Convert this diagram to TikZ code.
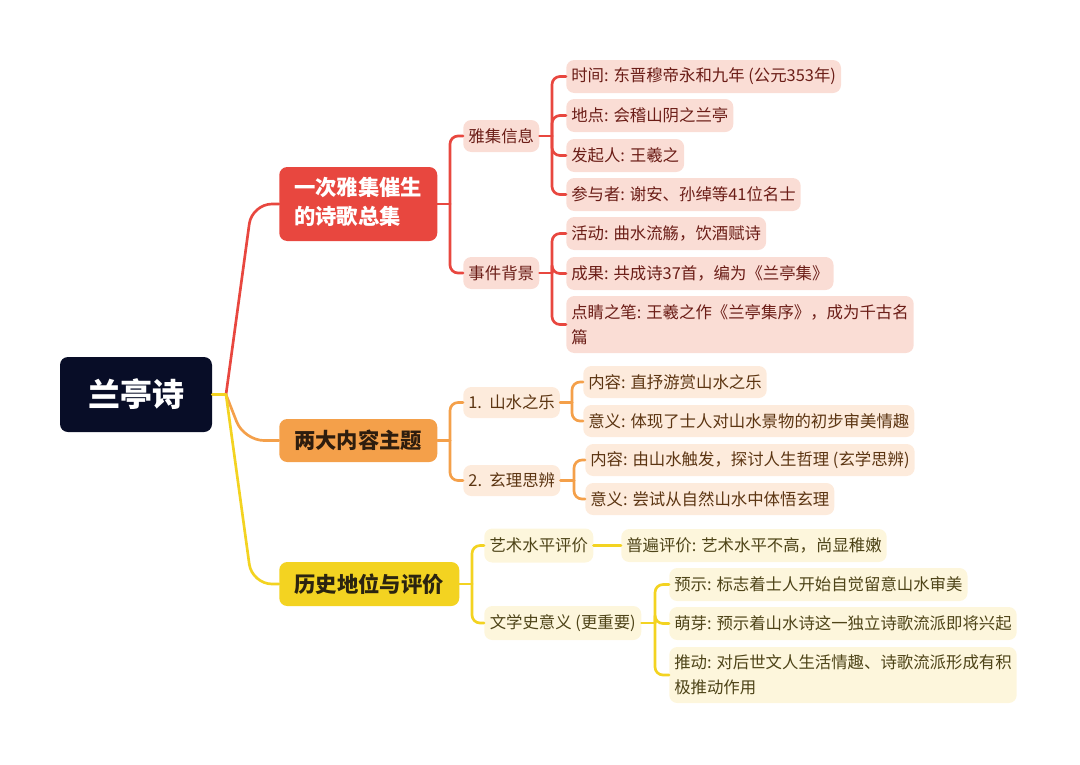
\documentclass[tikz,border=0pt]{standalone}
\usepackage{fontspec}
\setmainfont{Noto Sans CJK SC}
\definecolor{redC}{HTML}{E8473F}
\definecolor{redL}{HTML}{FADDD5}
\definecolor{redT}{HTML}{6B1D17}
\definecolor{orC}{HTML}{F4A04A}
\definecolor{orL}{HTML}{FDEBDC}
\definecolor{orT}{HTML}{5C3512}
\definecolor{orMT}{HTML}{2E1D0E}
\definecolor{yeC}{HTML}{F3D321}
\definecolor{yeL}{HTML}{FDF6DC}
\definecolor{yeT}{HTML}{4E4418}
\definecolor{yeMT}{HTML}{2B2410}
\definecolor{rootC}{HTML}{080D27}
\begin{document}
\begin{tikzpicture}[x=0.75pt,y=-0.75pt,
  base/.style={rounded corners=6pt, inner ysep=0pt, anchor=west, font=\fontsize{12.3}{18.75}\selectfont},
  leafR/.style={base, fill=redL, text=redT, inner xsep=3.75pt, minimum height=24.75pt},
  subR/.style={leafR, minimum height=24pt},
  leafO/.style={base, fill=orL, text=orT, inner xsep=3.75pt, minimum height=24pt},
  subO/.style={leafO, minimum height=23.25pt},
  leafY/.style={base, fill=yeL, text=yeT, inner xsep=3.75pt, minimum height=24.75pt},
  subY/.style={leafY, minimum height=25.5pt},
  mainN/.style={rounded corners=6pt, anchor=west, inner sep=0pt, font=\fontsize{16}{21.75}\selectfont\bfseries},
  lR/.style={draw=redC, line width=2pt, line cap=round},
  lO/.style={draw=orC, line width=2pt, line cap=round},
  lY/.style={draw=yeC, line width=2pt, line cap=round},
  rcorner/.style={rounded corners=6pt},
]
\useasboundingbox (0,0) rectangle (1080,764);

% root
\node[rounded corners=6pt, fill=rootC, text=white, minimum width=114pt, minimum height=56.25pt,
  font=\fontsize{24}{28}\selectfont\bfseries] (root) at (136,394.5) {兰亭诗};

% main nodes
\node[mainN, fill=redC, text=white, minimum width=118.5pt, minimum height=55.5pt] (m1) at (279,204)
  {\begin{tabular}{@{}l@{}}一次雅集催生\\的诗歌总集\end{tabular}};
\node[mainN, fill=orC, text=orMT, minimum width=118.5pt, minimum height=32.25pt] (m2) at (279,440.5) {两大内容主题};
\node[mainN, fill=yeC, text=yeMT, minimum width=135pt, minimum height=33pt] (m3) at (279,584) {历史地位与评价};

% root connectors
\coordinate (rj) at (226,394.5);
\draw[lR, rounded corners=15pt] (rj) -- (252,204) -- (m1.west);
\draw[lO, rounded corners=15pt] (rj) -- (244,440.5) -- (m2.west);
\draw[lY, rounded corners=15pt] (rj) -- (252,584) -- (m3.west);
\draw[lY] (root.east) -- (rj);

% red branch
\node[subR, minimum width=57pt] (r1) at (463,136) {雅集信息};
\node[subR, minimum width=57pt] (r2) at (463,273) {事件背景};
\node[leafR] (r11) at (566,76.5) {时间: 东晋穆帝永和九年 (公元353年)};
\node[leafR] (r12) at (566,115.5) {地点: 会稽山阴之兰亭};
\node[leafR] (r13) at (566,155.5) {发起人: 王羲之};
\node[leafR] (r14) at (566,194.5) {参与者: 谢安、孙绰等41位名士};
\node[leafR] (r21) at (566,233.5) {活动: 曲水流觞，饮酒赋诗};
\node[leafR] (r22) at (566,273.5) {成果: 共成诗37首，编为《兰亭集》};
\node[leafR, align=left, minimum height=42.75pt] (r23) at (566,324.5) {点睛之笔: 王羲之作《兰亭集序》，成为千古名\\篇};

\draw[lR] (m1.east) -- (450,204) coordinate (jm1);
\foreach \c in {r1,r2} \draw[lR, rcorner] (jm1) |- (\c.west);
\draw[lR] (r1.east) -- (552,136) coordinate (jr1);
\foreach \c in {r11,r12,r13,r14} \draw[lR, rcorner] (jr1) |- (\c.west);
\draw[lR] (r2.east) -- (552,273) coordinate (jr2);
\foreach \c in {r21,r22,r23} \draw[lR, rcorner] (jr2) |- (\c.west);

% orange branch
\node[subO, minimum width=71.25pt] (o1) at (463,402.5) {1.\ \ 山水之乐};
\node[subO, minimum width=72.75pt] (o2) at (463,480.5) {2.\ \ 玄理思辨};
\node[leafO] (o11) at (583,382) {内容: 直抒游赏山水之乐};
\node[leafO] (o12) at (583,421) {意义: 体现了士人对山水景物的初步审美情趣};
\node[leafO] (o21) at (585,460) {内容: 由山水触发，探讨人生哲理 (玄学思辨)};
\node[leafO] (o22) at (585,499) {意义: 尝试从自然山水中体悟玄理};

\draw[lO] (m2.east) -- (450,440.5) coordinate (jm2);
\foreach \c in {o1,o2} \draw[lO, rcorner] (jm2) |- (\c.west);
\draw[lO] (o1.east) -- (572,402.5) coordinate (jo1);
\foreach \c in {o11,o12} \draw[lO, rcorner] (jo1) |- (\c.west);
\draw[lO] (o2.east) -- (574,480.5) coordinate (jo2);
\foreach \c in {o21,o22} \draw[lO, rcorner] (jo2) |- (\c.west);

% yellow branch
\node[subY, minimum width=81.75pt] (y1) at (484,545.5) {艺术水平评价};
\node[subY, minimum width=117.75pt] (y2) at (484,623) {文学史意义 (更重要)};
\node[leafY] (y11) at (621,545.5) {普遍评价: 艺术水平不高，尚显稚嫩};
\node[leafY] (y21) at (669,584.5) {预示: 标志着士人开始自觉留意山水审美};
\node[leafY] (y22) at (669,623.5) {萌芽: 预示着山水诗这一独立诗歌流派即将兴起};
\node[leafY, align=left, minimum height=42pt] (y23) at (669,675) {推动: 对后世文人生活情趣、诗歌流派形成有积\\极推动作用};

\draw[lY] (m3.east) -- (472,584) coordinate (jm3);
\foreach \c in {y1,y2} \draw[lY, rcorner] (jm3) |- (\c.west);
\draw[lY] (y1.east) -- (y11.west);
\draw[lY] (y2.east) -- (655,623) coordinate (jy2);
\foreach \c in {y21,y22,y23} \draw[lY, rcorner] (jy2) |- (\c.west);
\end{tikzpicture}
\end{document}
